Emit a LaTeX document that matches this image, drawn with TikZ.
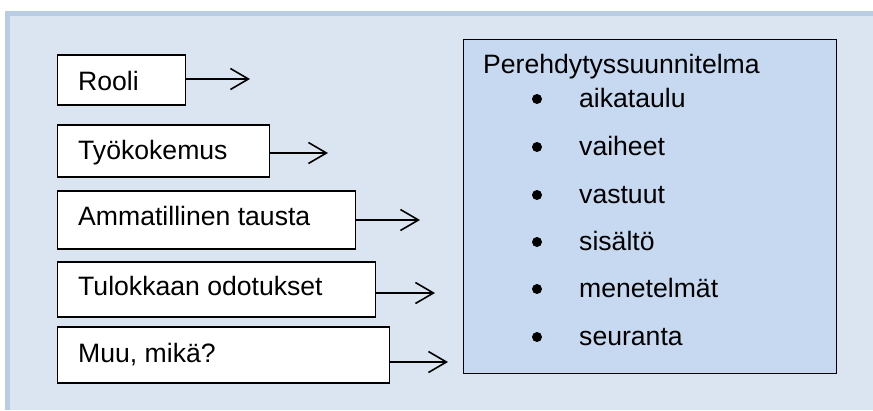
\documentclass[tikz,border=0pt]{standalone}
\usepackage{fontspec}
\setmainfont{Liberation Sans}
\usetikzlibrary{arrows.meta}
\definecolor{panelborder}{HTML}{B8CCE4}
\definecolor{panelfill}{HTML}{DBE5F1}
\definecolor{planfill}{HTML}{C6D9F1}
\tikzset{
  inbox/.style={draw=black, line width=1.3pt, fill=white, inner sep=0pt, anchor=west},
  lbl/.style={anchor=base west, inner sep=0pt, font=\fontsize{26.6}{30}\selectfont},
  arr/.style={line width=1.6pt, -{Straight Barb[length=18pt,width=21pt,line width=1.6pt]}},
  dot/.style={circle, fill=black, inner sep=0pt, minimum size=10pt},
}
\begin{document}
\begin{tikzpicture}[x=1pt,y=-1pt]
\useasboundingbox (0,0) rectangle (873,410);
% panel
\fill[panelfill] (5,11) rectangle (873,410);
\draw[panelborder, line width=5pt] (7.5,410) -- (7.5,13.5) -- (873,13.5);
% left boxes
\node[inbox, minimum width=128pt, minimum height=50pt] (b1) at (57,80) {};
\node[inbox, minimum width=212pt, minimum height=52pt] (b2) at (57,151) {};
\node[inbox, minimum width=298pt, minimum height=58pt] (b3) at (57,220) {};
\node[inbox, minimum width=318pt, minimum height=55pt] (b4) at (57,289.5) {};
\node[inbox, minimum width=332pt, minimum height=56pt] (b5) at (57,355) {};
\node[lbl] (t1) at (78,90) {Rooli};
\node[lbl] (t2) at (78,159) {Työkokemus};
\node[lbl] (t3) at (78,225) {Ammatillinen tausta};
\node[lbl] (t4) at (78,295) {Tulokkaan odotukset};
\node[lbl] (t5) at (78,362) {Muu, mikä?};
% arrow ends
\coordinate (a1) at (250,79);
\coordinate (a2) at (328,153);
\coordinate (a3) at (420,220);
\coordinate (a4) at (435,293);
\coordinate (a5) at (448,362);
\draw[arr] (b1.east |- a1) -- (a1);
\draw[arr] (b2.east |- a2) -- (a2);
\draw[arr] (b3.east |- a3) -- (a3);
\draw[arr] (b4.east |- a4) -- (a4);
\draw[arr] (b5.east |- a5) -- (a5);
% plan box
\node[draw=black, line width=1.3pt, fill=planfill, inner sep=0pt, anchor=north west,
      minimum width=373pt, minimum height=334pt] (plan) at (463,39) {};
\node[lbl] (title) at (483,73) {Perehdytyssuunnitelma};
\node[dot] (d1) at (537,99) {};
\node[dot] (d2) at (537,147) {};
\node[dot] (d3) at (537,195) {};
\node[dot] (d4) at (537,242) {};
\node[dot] (d5) at (537,289) {};
\node[dot] (d6) at (537,337) {};
\node[lbl] (i1) at (579,107) {aikataulu};
\node[lbl] (i2) at (579,155) {vaiheet};
\node[lbl] (i3) at (579,203) {vastuut};
\node[lbl] (i4) at (579,250) {sisältö};
\node[lbl] (i5) at (579,297) {menetelmät};
\node[lbl] (i6) at (579,345) {seuranta};
\end{tikzpicture}
\end{document}
